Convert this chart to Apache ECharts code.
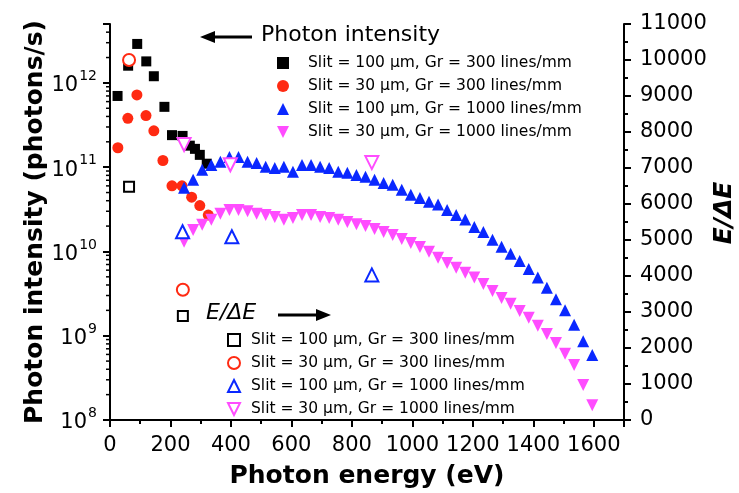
<!DOCTYPE html>
<html>
<head>
<meta charset="utf-8">
<script src="https://cdn.jsdelivr.net/npm/echarts@6/dist/echarts.min.js"></script>
<style>
  html, body { margin: 0; padding: 0; background: #fff; }
  #chart { width: 739px; height: 493px; }
</style>
</head>
<body>
<div id="chart"></div>
<script>
// Photon intensity (photons/s), left log axis
const int100g300E = [25, 60, 90, 120, 145, 180, 205, 240, 264, 281, 297, 320];
const int100g300 = [7.0e11, 1.6e12, 2.9e12, 1.8e12, 1.2e12, 5.2e11, 2.4e11, 2.35e11, 1.8e11, 1.65e11, 1.4e11, 1.1e11];

const int30g300E = [26, 59, 89, 119, 145, 175, 205, 238, 270, 297, 325];
const int30g300 = [1.7e11, 3.8e11, 7.2e11, 4.1e11, 2.7e11, 1.2e11, 6.0e10, 6.0e10, 4.4e10, 3.5e10, 2.7e10];

const gr1000E = [245, 275, 305, 335, 365, 395, 425, 455, 485, 515, 545, 575, 605, 635, 665, 695,
  725, 755, 785, 815, 845, 875, 905, 935, 965, 995, 1025, 1055, 1085, 1115, 1145, 1175,
  1205, 1235, 1265, 1295, 1325, 1355, 1385, 1415, 1445, 1475, 1505, 1535, 1565, 1595];
const int100g1000 = [5.7e10, 7.1e10, 9.3e10, 1.06e11, 1.16e11, 1.32e11, 1.32e11, 1.16e11, 1.12e11, 1.01e11,
  9.8e10, 1.01e11, 8.8e10, 1.06e11, 1.06e11, 1.01e11, 9.8e10, 8.8e10, 8.6e10, 8.1e10,
  7.7e10, 7.1e10, 6.5e10, 6.2e10, 5.4e10, 4.7e10, 4.3e10, 3.9e10, 3.6e10, 3.1e10,
  2.7e10, 2.4e10, 1.95e10, 1.7e10, 1.38e10, 1.14e10, 9.4e9, 7.7e9, 6.2e9, 4.9e9,
  3.7e9, 2.7e9, 2.0e9, 1.35e9, 8.6e8, 5.9e8];
const int30g1000 = [1.3e10, 1.8e10, 2.07e10, 2.37e10, 2.8e10, 3.1e10, 3.1e10, 3.0e10, 2.8e10, 2.7e10,
  2.57e10, 2.37e10, 2.5e10, 2.7e10, 2.7e10, 2.57e10, 2.5e10, 2.37e10, 2.24e10, 2.1e10,
  2.0e10, 1.85e10, 1.7e10, 1.57e10, 1.41e10, 1.26e10, 1.13e10, 9.9e9, 8.4e9, 7.3e9,
  6.4e9, 5.6e9, 4.9e9, 4.1e9, 3.4e9, 2.8e9, 2.4e9, 1.97e9, 1.63e9, 1.31e9,
  1.05e9, 8.2e8, 6.1e8, 4.5e8, 2.6e8, 1.5e8];

// Resolving power E/dE, right axis
const res100g300E = [63, 241];
const res100g300 = [6480, 2890];
const res30g300E = [63, 241];
const res30g300 = [10000, 3620];
const res100g1000E = [240, 403, 866];
const res100g1000 = [5230, 5090, 4030];
const res30g1000E = [245, 398, 866];
const res30g1000 = [7650, 7090, 7150];

const slitLabels = [
  'Slit = 100 μm, Gr = 300 lines/mm',
  'Slit = 30 μm, Gr = 300 lines/mm',
  'Slit = 100 μm, Gr = 1000 lines/mm',
  'Slit = 30 μm, Gr = 1000 lines/mm'
];
const resPrefix = 'E/ΔE: ';

// log-axis minor ticks (mantissa x decade)
const minorMantissas = [2, 3, 4, 5, 6, 7, 8, 9];
const minorDecades = [8, 9, 10, 11, 12];

const FONT = 'DejaVu Sans';
const colors = ['#000000', '#ff2a12', '#0a28ff', '#ff4cff'];
const symbols = ['rect', 'circle', 'triangle', 'triangle'];
const rotations = [0, 0, 0, 180];
const filledSizes = [10, 11, 12, 12];
const openSizes = [10, 12, 13, 13];
const DOWN_TRIANGLE = 'path://M0,0L10,0L5,10Z';

const pairs = (xs, ys) => xs.map((x, i) => [x, ys[i]]);

const intensity = [
  pairs(int100g300E, int100g300),
  pairs(int30g300E, int30g300),
  pairs(gr1000E, int100g1000),
  pairs(gr1000E, int30g1000)
];
const resolving = [
  pairs(res100g300E, res100g300),
  pairs(res30g300E, res30g300),
  pairs(res100g1000E, res100g1000),
  pairs(res30g1000E, res30g1000)
];

const minorTicks = [];
minorDecades.forEach(d => minorMantissas.forEach(m => {
  const v = m * Math.pow(10, d);
  if (v <= 5e12) minorTicks.push([0, v]);
}));

const chart = echarts.init(document.getElementById('chart'), null, { renderer: 'canvas' });

const series = [];
intensity.forEach((data, i) => {
  series.push({
    name: slitLabels[i],
    type: 'scatter',
    yAxisIndex: 0,
    symbol: symbols[i],
    symbolRotate: rotations[i],
    symbolSize: filledSizes[i],
    itemStyle: { color: colors[i], opacity: 1 },
    data: data,
    z: 2
  });
});
resolving.forEach((data, i) => {
  series.push({
    name: resPrefix + slitLabels[i],
    type: 'scatter',
    yAxisIndex: 1,
    symbol: symbols[i],
    symbolRotate: rotations[i],
    symbolSize: openSizes[i],
    itemStyle: { color: '#ffffff', borderColor: colors[i], borderWidth: 2, opacity: 1 },
    data: data,
    z: 3
  });
});
series.push({
  type: 'custom',
  yAxisIndex: 0,
  silent: true,
  clip: false,
  data: minorTicks,
  renderItem: (params, api) => {
    const p = api.coord([api.value(0), api.value(1)]);
    return {
      type: 'line',
      shape: { x1: p[0] - 4, y1: p[1], x2: p[0], y2: p[1] },
      style: { stroke: '#000', lineWidth: 1.5 }
    };
  }
});

const legendBase = {
  orient: 'vertical',
  itemWidth: 12,
  itemHeight: 12,
  itemGap: 7,
  selectedMode: false
};
// inverted triangle needs its own legend icon
const legendItems = names => names.map((n, i) =>
  rotations[i] === 180 ? { name: n, icon: DOWN_TRIANGLE } : { name: n });

const option = {
  backgroundColor: '#ffffff',
  animation: false,
  grid: { left: 110, right: 115, top: 24, bottom: 73, outerBoundsMode: 'none' },
  xAxis: {
    type: 'value',
    min: 0,
    max: 1700,
    interval: 200,
    name: 'Photon energy (eV)',
    nameLocation: 'middle',
    nameGap: 44,
    nameTextStyle: { fontFamily: FONT, fontSize: 25, fontWeight: 'bold', color: '#000' },
    axisLine: { lineStyle: { color: '#000', width: 2 } },
    axisTick: { length: 7, lineStyle: { width: 2 } },
    minorTick: { show: true, splitNumber: 2, length: 4, lineStyle: { color: '#000', width: 2 } },
    splitLine: { show: false },
    axisLabel: {
      margin: 15,
      fontFamily: FONT,
      fontSize: 21,
      color: '#000',
      formatter: v => (v % 200 === 0 ? String(v) : '')
    }
  },
  yAxis: [
    {
      type: 'log',
      logBase: 10,
      min: 1e8,
      max: 5e12,
      position: 'left',
      name: 'Photon intensity (photons/s)',
      nameLocation: 'middle',
      nameMoveOverlap: false,
      nameGap: 62,
      nameTextStyle: { fontFamily: FONT, fontSize: 25, fontWeight: 'bold', color: '#000' },
      axisLine: { show: true, lineStyle: { color: '#000', width: 2 } },
      axisTick: { length: 7, lineStyle: { width: 2 } },
      splitLine: { show: false },
      axisLabel: {
        margin: 13,
        color: '#000',
        formatter: v => {
          const l = Math.log10(v);
          const e = Math.round(l);
          if (Math.abs(l - e) > 1e-6) return '';
          return '{b|10}{s|' + e + '}';
        },
        rich: {
          b: { fontFamily: FONT, fontSize: 21, color: '#000', padding: [6, 1, 0, 0] },
          s: { fontFamily: FONT, fontSize: 14, color: '#000', verticalAlign: 'top', padding: [0, 0, 8, 0] }
        }
      }
    },
    {
      type: 'value',
      min: 0,
      max: 11000,
      interval: 1000,
      position: 'right',
      name: 'E/ΔE',
      nameLocation: 'middle',
      nameMoveOverlap: false,
      nameGap: 88,
      nameRotate: 90,
      nameTextStyle: { fontFamily: FONT, fontSize: 25, fontWeight: 'bold', fontStyle: 'italic', color: '#000', padding: [0, 0, 0, 18] },
      axisLine: { show: true, lineStyle: { color: '#000', width: 2 } },
      axisTick: { length: 7, lineStyle: { width: 2 } },
      minorTick: { show: true, splitNumber: 2, length: 4, lineStyle: { color: '#000', width: 2 } },
      splitLine: { show: false },
      axisLabel: { margin: 16, fontFamily: FONT, fontSize: 21, color: '#000', formatter: v => String(v) }
    }
  ],
  legend: [
    Object.assign({}, legendBase, {
      left: 272,
      top: 50,
      textStyle: { fontFamily: FONT, fontSize: 15.5, color: '#000', padding: [0, 0, 0, 14] },
      formatter: name => name,
      data: legendItems(slitLabels)
    }),
    Object.assign({}, legendBase, {
      left: 222,
      top: 327,
      textStyle: { fontFamily: FONT, fontSize: 15.5, color: '#000', padding: [0, 0, 0, 6] },
      formatter: name => name.replace(resPrefix, ''),
      data: legendItems(slitLabels.map(s => resPrefix + s))
    })
  ],
  graphic: [
    { type: 'line', shape: { x1: 252, y1: 37, x2: 210, y2: 37 }, style: { stroke: '#000', lineWidth: 3 } },
    { type: 'polygon', shape: { points: [[200, 37], [215, 31], [215, 43]] }, style: { fill: '#000' } },
    { type: 'text', left: 261, top: 24, style: { text: 'Photon intensity', font: '22px "DejaVu Sans"', fill: '#000' } },
    { type: 'text', left: 206, top: 302, style: { text: 'E/ΔE', font: 'italic 22px "DejaVu Sans"', fill: '#000' } },
    { type: 'line', shape: { x1: 278, y1: 315, x2: 320, y2: 315 }, style: { stroke: '#000', lineWidth: 3 } },
    { type: 'polygon', shape: { points: [[331, 315], [316, 309], [316, 321]] }, style: { fill: '#000' } }
  ],
  series: series
};

chart.setOption(option);
</script>
</body>
</html>
